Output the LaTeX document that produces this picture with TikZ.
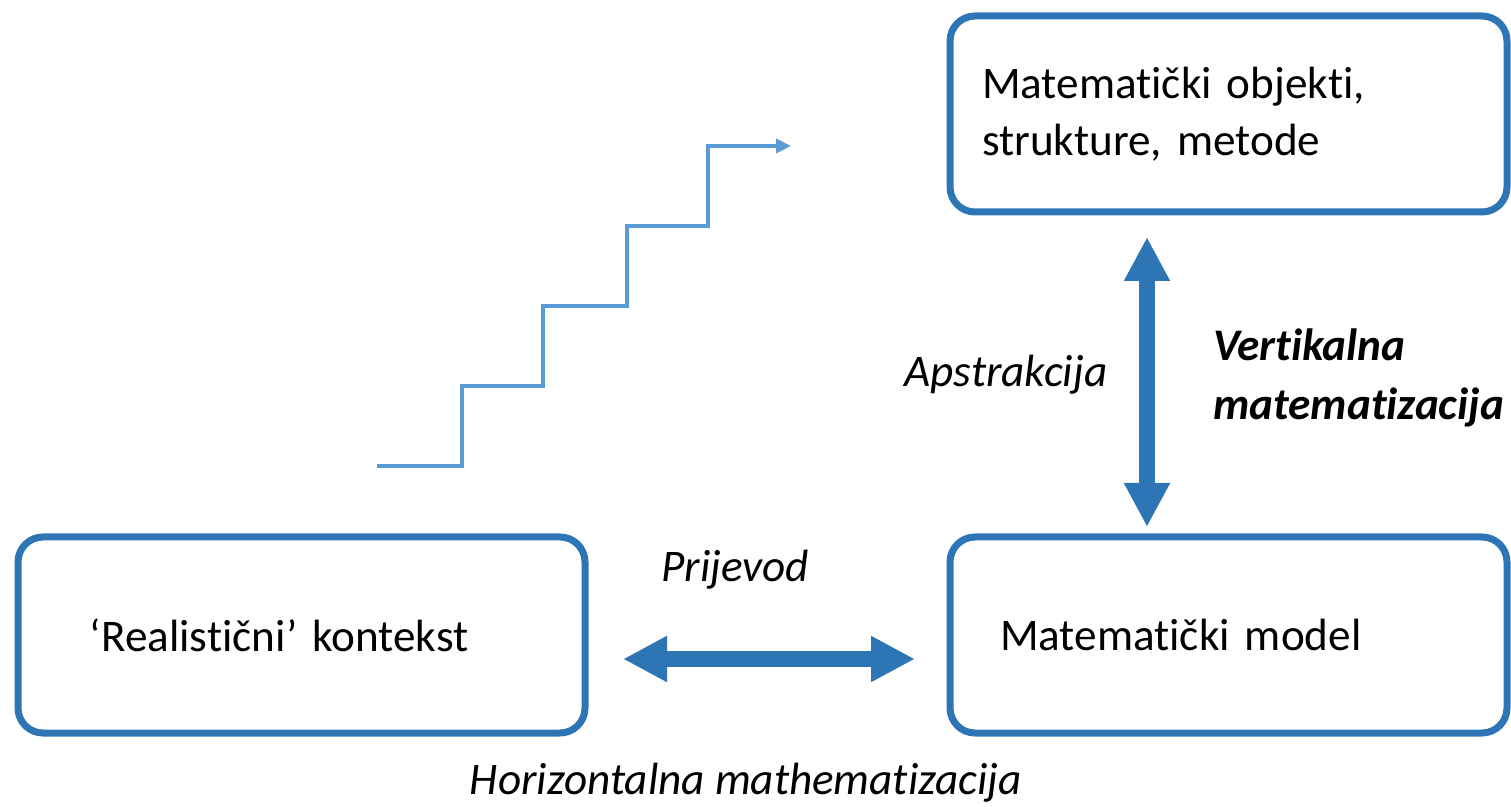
\documentclass[tikz,border=0pt]{standalone}
\usepackage{fontspec}
\setmainfont{Carlito}[RawFeature={-liga;-clig;-calt;-dlig}]
\usetikzlibrary{arrows.meta}

\definecolor{boxblue}{HTML}{2E75B6}
\definecolor{stairblue}{HTML}{5B9BD5}

\begin{document}
\begin{tikzpicture}[x=0.5pt, y=-0.5pt,
  every node/.style={font=\fontsize{22.6}{28.5}\selectfont, text=black},
  box/.style={draw=boxblue, line width=3.5pt, rounded corners=12.5pt,
              minimum height=98pt, align=left, inner ysep=0pt},
  lab/.style={font=\fontsize{22.6}{28.5}\selectfont\itshape},
  big/.style={draw=boxblue, line width=8pt,
              {Triangle[length=22pt,width=21.5pt]}-{Triangle[length=22pt,width=21.5pt]}},
  stair/.style={draw=stairblue, line width=2.3pt, -{Triangle[length=7.5pt,width=7pt]}}]

\useasboundingbox (0,0) rectangle (1511,807);

%% --- Boxes ---
\node[box, minimum width=278.5pt, text width=246.5pt, inner xsep=16pt]
     (MOBJ) at (1228.5,114) {Matematički objekti,\\ strukture, metode};
\node[box, minimum width=283.5pt, text width=211.5pt, inner xsep=36pt]
     (REAL) at (301.5,635)  {‘Realistični’ kontekst};
\node[box, minimum width=278.5pt, text width=228.5pt, inner xsep=25pt]
     (MMOD) at (1228.5,635) {Matematički model};

%% --- Arrow ends ---
\coordinate (HL) at (623,659);
\coordinate (HR) at (915,659);
\coordinate (VT) at (1147,237);
\coordinate (VB) at (1147,527);

%% --- Labels ---
\node[lab] (ABS)  at (1006,375) {Apstrakcija};
\node[lab, font=\fontsize{22.6}{29.5}\selectfont\bfseries\itshape, align=left, anchor=west]
     (VERT) at (1206,378) {Vertikalna\\ matematizacija};
\node[lab] (TRAN) at (735,570)  {Prijevod};
\node[lab] (HORZ) at (746,783)  {Horizontalna mathematizacija};

%% --- Arrows ---
\draw[big] (HL) -- (HR);
\draw[big] (VT) -- (VB);

%% --- Stairs ---
\coordinate (S0) at (377,466);
\draw[stair] (S0) -- ++(85,0) -- ++(0,-80) -- ++(81,0) -- ++(0,-80)
  -- ++(84,0) -- ++(0,-80) -- ++(81,0) -- ++(0,-80) -- ++(83,0);
\end{tikzpicture}
\end{document}
